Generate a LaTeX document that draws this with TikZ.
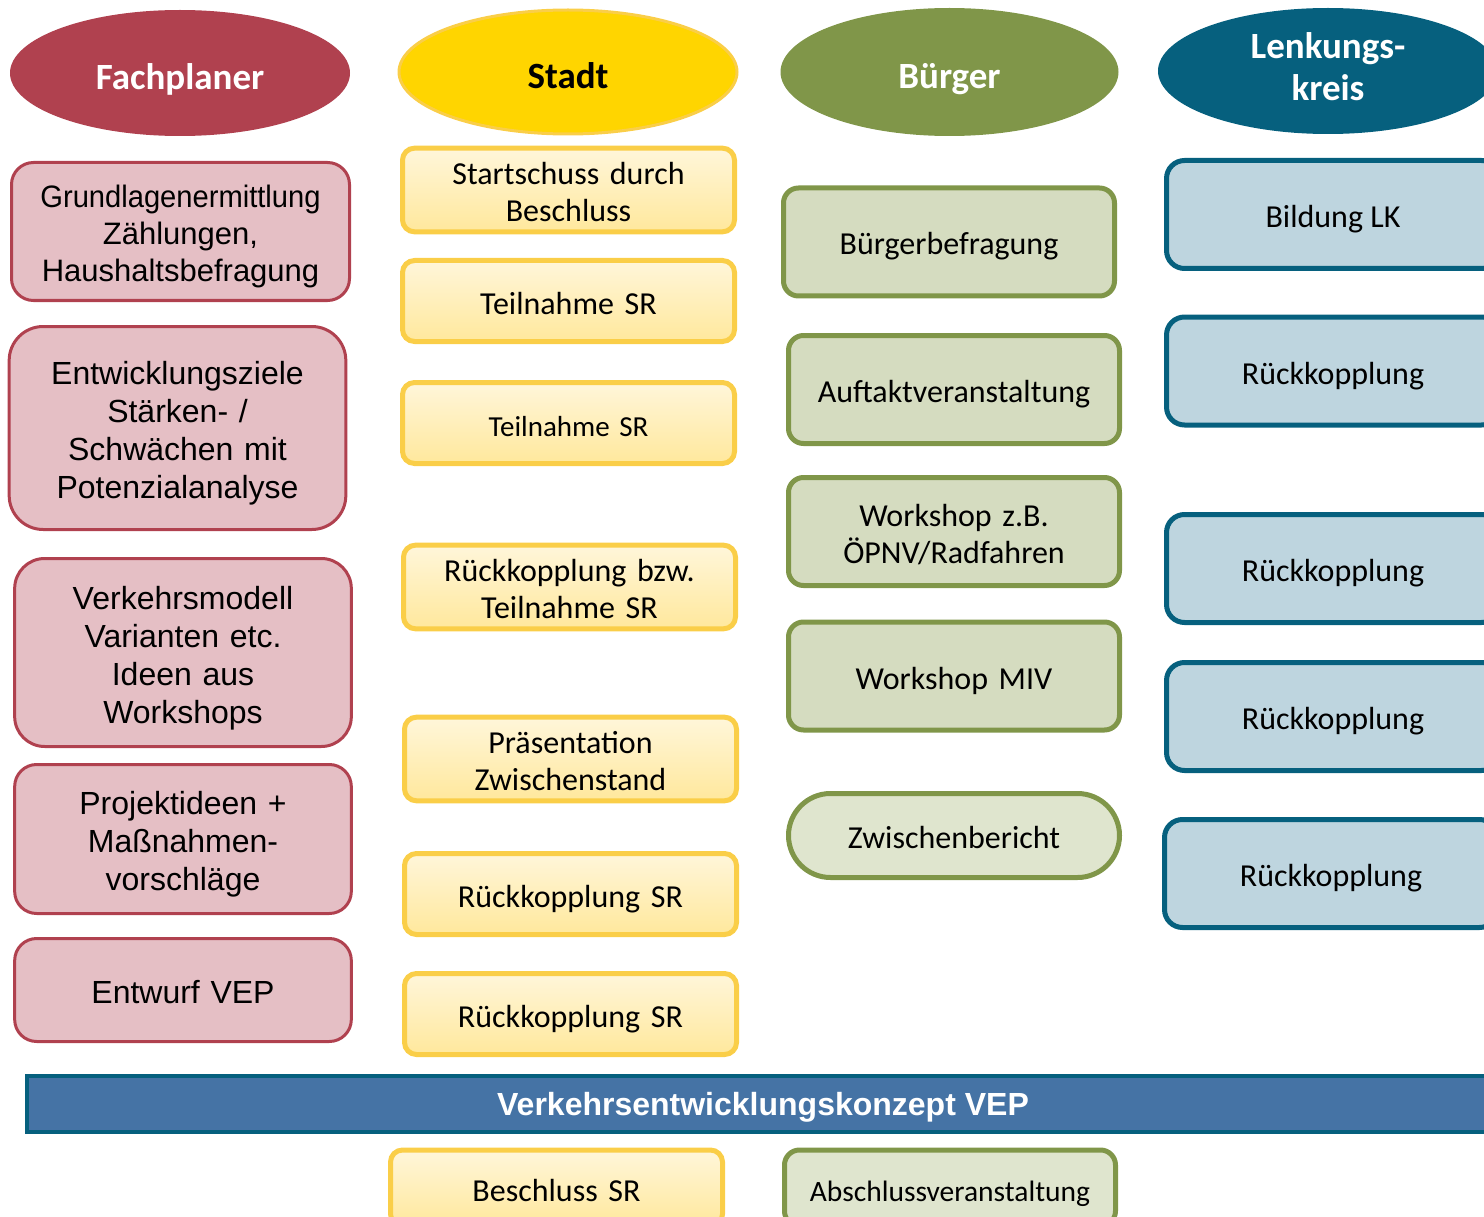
\documentclass[tikz,border=0pt]{standalone}
\usepackage{fontspec}
\setmainfont{Carlito}
\newfontfamily\arialfont{Liberation Sans}
\usepackage{tikz}
\usetikzlibrary{shapes.geometric, positioning}

\definecolor{fpred}{HTML}{B0414F}
\definecolor{fppink}{HTML}{E5BFC5}
\definecolor{stgold}{HTML}{FFD500}
\definecolor{stedge}{HTML}{FACE48}
\definecolor{sttop}{HTML}{FFF6DA}
\definecolor{stbot}{HTML}{FFE89C}
\definecolor{bgolive}{HTML}{809649}
\definecolor{bglight}{HTML}{D5DCC0}
\definecolor{bgpale}{HTML}{DFE5CE}
\definecolor{lkblue}{HTML}{06607E}
\definecolor{lklight}{HTML}{BED5DF}
\definecolor{vepblue}{HTML}{4573A5}

\begin{document}
\begin{tikzpicture}[x=1pt, y=-1pt,
  % struts: height above first line, depth below last line
  struts/.style 2 args={execute at begin node={\rule{0pt}{#1pt}},
                        execute at end node={\rule[-#2pt]{0pt}{0pt}}},
  head/.style={ellipse, minimum width=338, minimum height=124, inner sep=0pt,
               align=center, font=\fontsize{37}{42}\selectfont\bfseries,
               struts={41}{8}},
  fpbox/.style={draw=fpred, fill=fppink, line width=3pt, rounded corners=22pt,
                minimum width=334, align=center, text width=330,
                font=\arialfont\fontsize{32}{38}\selectfont, struts={34}{7}},
  stbox/.style={draw=stedge, top color=sttop, bottom color=stbot, line width=5pt,
                rounded corners=12pt, minimum width=332, minimum height=81,
                align=center, text width=320, font=\fontsize{32}{37}\selectfont,
                struts={33}{7}},
  bgbox/.style={draw=bgolive, fill=bglight, line width=5pt, rounded corners=15pt,
                minimum width=331, minimum height=108, align=center,
                text width=320, font=\fontsize{32}{37}\selectfont, struts={33}{7}},
  lkbox/.style={draw=lkblue, fill=lklight, line width=5pt, rounded corners=18pt,
                minimum width=333, minimum height=108, align=center,
                font=\fontsize{32}{37}\selectfont, struts={33}{7}}
]
\useasboundingbox (0,0) rectangle (1484,1217);
\clip (0,0) rectangle (1484,1217);

% column heads
\node[head, fill=fpred, text=white, minimum width=340, minimum height=126] (fach) at (180,73) {Fachplaner};
\node[head, fill=stgold, draw=stedge, line width=3pt] (stadt) at (568,72) {Stadt};
\node[head, fill=bgolive, text=white, minimum height=128] (buerger) at (949.5,72) {Bürger};
\node[head, fill=lkblue, text=white, minimum width=340, minimum height=126, struts={52}{8}] (lk) at (1328,71) {Lenkungs-\\kreis};

% Fachplaner
\node[fpbox, minimum width=338, minimum height=138, font=\arialfont\fontsize{31}{37}\selectfont, struts={32}{7}] (fach1) at (180.5,231.5) {\scalebox{0.94}[1]{Grundlagenermittlung}\\ Zählungen,\\ Haushaltsbefragung};
\node[fpbox, minimum height=203, rounded corners=34pt] (fach2) at (177.5,428) {Entwicklungsziele\\ Stärken- /\\ Schwächen mit\\ Potenzialanalyse};
\node[fpbox, minimum width=333, minimum height=188, rounded corners=30pt] (fach3) at (183,652.5) {Verkehrsmodell\\ Varianten etc.\\ Ideen aus\\ Workshops};
\node[fpbox, minimum width=333, minimum height=149] (fach4) at (183,839) {Projektideen +\\ Maßnahmen-\\ vorschläge};
\node[fpbox, minimum width=333, minimum height=103] (fach5) at (183,990) {Entwurf VEP};

% Stadt
\node[stbox] (st1) at (568.5,190) {Startschuss durch\\ Beschluss};
\node[stbox] (st2) at (568.5,301) {Teilnahme SR};
\node[stbox, font=\fontsize{29}{37}\selectfont] (st3) at (568.5,423) {Teilnahme SR};
\node[stbox] (st4) at (569.5,587) {Rückkopplung bzw.\\ Teilnahme SR};
\node[stbox] (st5) at (570.5,759) {Präsentation\\ Zwischenstand};
\node[stbox] (st6) at (570.5,894) {Rückkopplung SR};
\node[stbox] (st7) at (570.5,1014) {Rückkopplung SR};
\node[stbox, minimum height=76] (st8) at (556.5,1188) {Beschluss SR};

% Bürger
\node[bgbox] (bg1) at (949,242) {Bürgerbefragung};
\node[bgbox] (bg2) at (954,389.5) {Auftaktveranstaltung};
\node[bgbox] (bg3) at (954,531.5) {Workshop z.B.\\ ÖPNV/Radfahren};
\node[bgbox] (bg4) at (954,676) {Workshop MIV};
\node[bgbox, fill=bgpale, minimum height=84, rounded corners=42pt] (bg5) at (954,835.5) {Zwischenbericht};
\node[bgbox, fill=bgpale, minimum height=76, font=\fontsize{29.5}{37}\selectfont] (bg6) at (950,1188) {Abschlussveranstaltung};

% Lenkungskreis
\node[lkbox] (lk1) at (1333,214.5) {Bildung LK};
\node[lkbox] (lk2) at (1333,371) {Rückkopplung};
\node[lkbox] (lk3) at (1333,568.5) {Rückkopplung};
\node[lkbox] (lk4) at (1333,716.5) {Rückkopplung};
\node[lkbox] (lk5) at (1331,873.5) {Rückkopplung};

% Ergebnis
\node[draw=lkblue, fill=vepblue, line width=4pt, minimum width=1472, minimum height=56,
      text=white, font=\arialfont\fontsize{32}{36}\selectfont\bfseries, struts={30}{7}] (vep) at (763,1104) {Verkehrsentwicklungskonzept VEP};
\end{tikzpicture}
\end{document}
